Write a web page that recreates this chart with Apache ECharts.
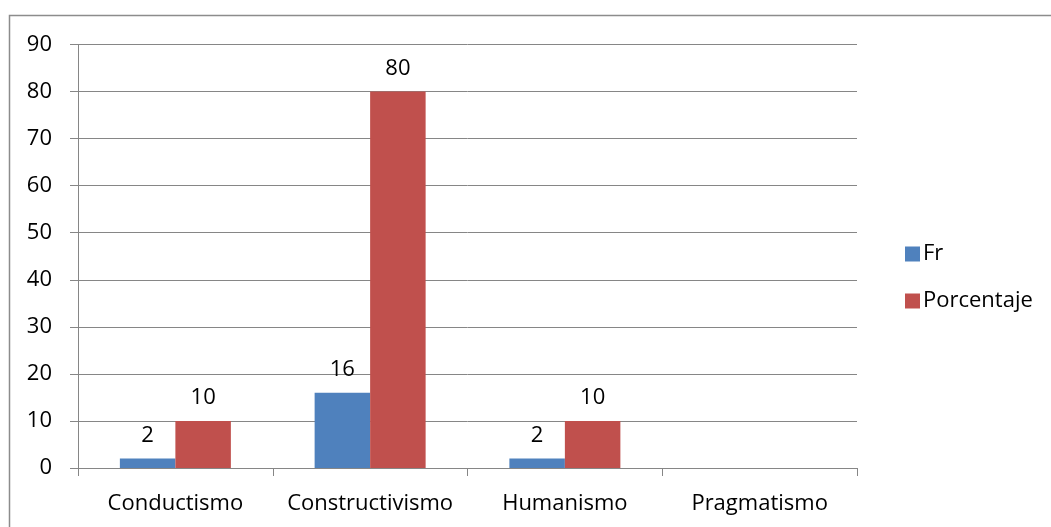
<!DOCTYPE html>
<html><head><meta charset="utf-8">
<script src="https://cdn.jsdelivr.net/npm/echarts@6/dist/echarts.min.js"></script>
<style>html,body{margin:0;padding:0;background:#fff}#c{width:1051px;height:527px}</style>
</head><body><div id="c"></div>
<script>
const categories = ['Conductismo', 'Constructivismo', 'Humanismo', 'Pragmatismo'];
const frValues = [2, 16, 2, null];
const porcentajeValues = [10, 80, 10, null];
const seriesNames = ['Fr', 'Porcentaje'];
const yMin = 0, yMax = 90, yInterval = 10;

const FONT = '"Open Sans", sans-serif';
const FS = 22;
const chart = echarts.init(document.getElementById('c'));
const labelStyle = {show: true, position: 'top', distance: 12, fontSize: FS, color: '#000', fontFamily: FONT};
chart.setOption({
  animation: false,
  graphic: [{type: 'rect', shape: {x: 9.5, y: 15.5, width: 1100, height: 600}, style: {fill: 'none', stroke: '#8c8c8c', lineWidth: 1.5}, silent: true}],
  grid: {left: 78, right: 194, top: 44.5, bottom: 59, containLabel: false},
  legend: {
    orient: 'vertical', left: 900, top: 238, itemWidth: 15, itemHeight: 15, itemGap: 25,
    icon: 'rect', textStyle: {fontSize: FS, fontFamily: FONT, color: '#000', padding: [0, 0, 0, -2]},
    data: seriesNames
  },
  xAxis: {
    type: 'category', data: categories,
    axisLine: {lineStyle: {color: '#868686', width: 1}},
    axisTick: {show: true, interval: 0, length: 8, lineStyle: {color: '#868686'}},
    axisLabel: {interval: 0, fontSize: FS, fontFamily: FONT, color: '#000', margin: 25}
  },
  yAxis: {
    type: 'value', min: yMin, max: yMax, interval: yInterval,
    axisLine: {show: true, lineStyle: {color: '#868686', width: 1}},
    axisTick: {show: true, length: 8, lineStyle: {color: '#868686'}},
    splitLine: {lineStyle: {color: '#868686', width: 1}},
    axisLabel: {fontSize: FS, fontFamily: FONT, color: '#000', margin: 26}
  },
  series: [
    {name: seriesNames[0], type: 'bar', data: frValues, itemStyle: {color: '#4F81BD'}, barGap: '0%', barCategoryGap: '43%', label: labelStyle},
    {name: seriesNames[1], type: 'bar', data: porcentajeValues, itemStyle: {color: '#C0504D'}, label: labelStyle}
  ]
});
</script></body></html>
